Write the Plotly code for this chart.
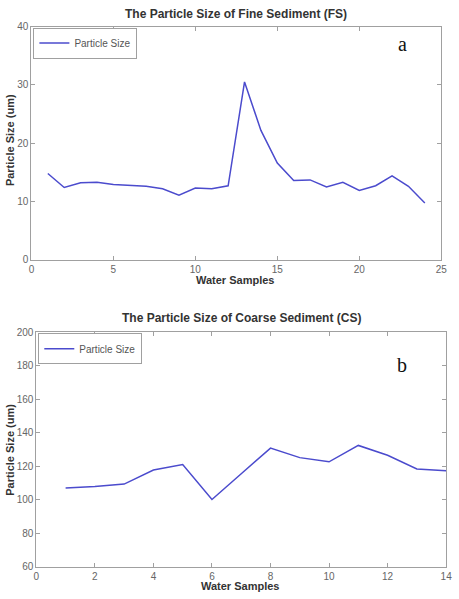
import plotly.graph_objects as go

fs_x = list(range(1, 25))
fs_y = [14.8, 12.4, 13.2, 13.3, 12.9, 12.7, 12.6, 12.2, 11.1, 12.3, 12.2, 12.7,
        30.5, 22.2, 16.6, 13.6, 13.7, 12.5, 13.3, 11.9, 12.7, 14.4, 12.6, 9.75]
cs_x = list(range(1, 15))
cs_y = [106.9, 107.8, 109.3, 117.7, 121.0, 100.1, 115.5, 130.8, 125.1, 122.6,
        132.4, 126.5, 118.3, 117.3]

title_a = "The Particle Size of Fine Sediment (FS)"
title_b = "The Particle Size of Coarse Sediment (CS)"
xlab = "Water Samples"
ylab = "Particle Size (um)"
series_name = "Particle Size"

W, H = 459, 599
line_col = "rgb(75,75,205)"
tick_font = dict(family="Liberation Sans, Arial", size=10, color="#666666")
ax_col = "#a0a0a0"

fig = go.Figure()
fig.add_trace(go.Scatter(x=fs_x, y=fs_y, mode="lines", name=series_name,
                         line=dict(color=line_col, width=1.5),
                         xaxis="x", yaxis="y", legend="legend"))
fig.add_trace(go.Scatter(x=cs_x, y=cs_y, mode="lines", name=series_name,
                         line=dict(color=line_col, width=1.5),
                         xaxis="x2", yaxis="y2", legend="legend2"))

def px_x(p):
    return p / W

def px_y(p):
    return 1 - p / H

common = dict(showgrid=False, zeroline=False, showline=True, linecolor=ax_col,
              linewidth=1, mirror="ticks", ticks="inside", ticklen=4,
              tickcolor=ax_col, tickfont=tick_font)

leg_font = dict(family="Liberation Sans, Arial", size=10, color="#555555")
fig.update_layout(
    width=W, height=H, margin=dict(l=0, r=0, t=0, b=0),
    plot_bgcolor="white", paper_bgcolor="white",
    xaxis=dict(domain=[px_x(29), px_x(447)], range=[0, 25], dtick=5,
               anchor="y", **common),
    yaxis=dict(domain=[px_y(259), px_y(21)], range=[0, 40], dtick=10,
               anchor="x", **common),
    xaxis2=dict(domain=[px_x(34), px_x(452)], range=[0, 14], dtick=2,
                anchor="y2", **common),
    yaxis2=dict(domain=[px_y(572), px_y(333)], range=[60, 200], dtick=20,
                anchor="x2", **common),
    legend=dict(x=px_x(31), y=px_y(22), xanchor="left", yanchor="top",
                bgcolor="white", bordercolor=ax_col, borderwidth=1,
                font=leg_font, itemwidth=30, tracegroupgap=0),
    legend2=dict(x=px_x(36), y=px_y(334), xanchor="left", yanchor="top",
                 bgcolor="white", bordercolor=ax_col, borderwidth=1,
                 font=leg_font, itemwidth=30, tracegroupgap=0),
    showlegend=True,
)

ann_font = dict(family="Liberation Sans, Arial", size=12, color="#333333")
lab_font = dict(family="Liberation Sans, Arial", size=11, color="#333333")
anns = [
    dict(text="<b>" + title_a + "</b>", x=px_x(238), y=px_y(8)),
    dict(text="<b>" + title_b + "</b>", x=px_x(243), y=px_y(318)),
    dict(text="<b>" + xlab + "</b>", x=px_x(237), y=px_y(280), font=lab_font),
    dict(text="<b>" + xlab + "</b>", x=px_x(242), y=px_y(592), font=lab_font),
    dict(text="<b>" + ylab + "</b>", x=px_x(7), y=px_y(137), font=lab_font, textangle=-90),
    dict(text="<b>" + ylab + "</b>", x=px_x(7), y=px_y(453), font=lab_font, textangle=-90),
    dict(text="a", x=px_x(407), y=px_y(39),
         font=dict(family="Liberation Serif, Times New Roman", size=20, color="#111111")),
    dict(text="b", x=px_x(407), y=px_y(366),
         font=dict(family="Liberation Serif, Times New Roman", size=20, color="#111111")),
]
for a in anns:
    a.setdefault("font", ann_font)
    fig.add_annotation(xref="paper", yref="paper", showarrow=False,
                       xanchor="center", yanchor="middle", **a)

fig.write_html("out.html")
